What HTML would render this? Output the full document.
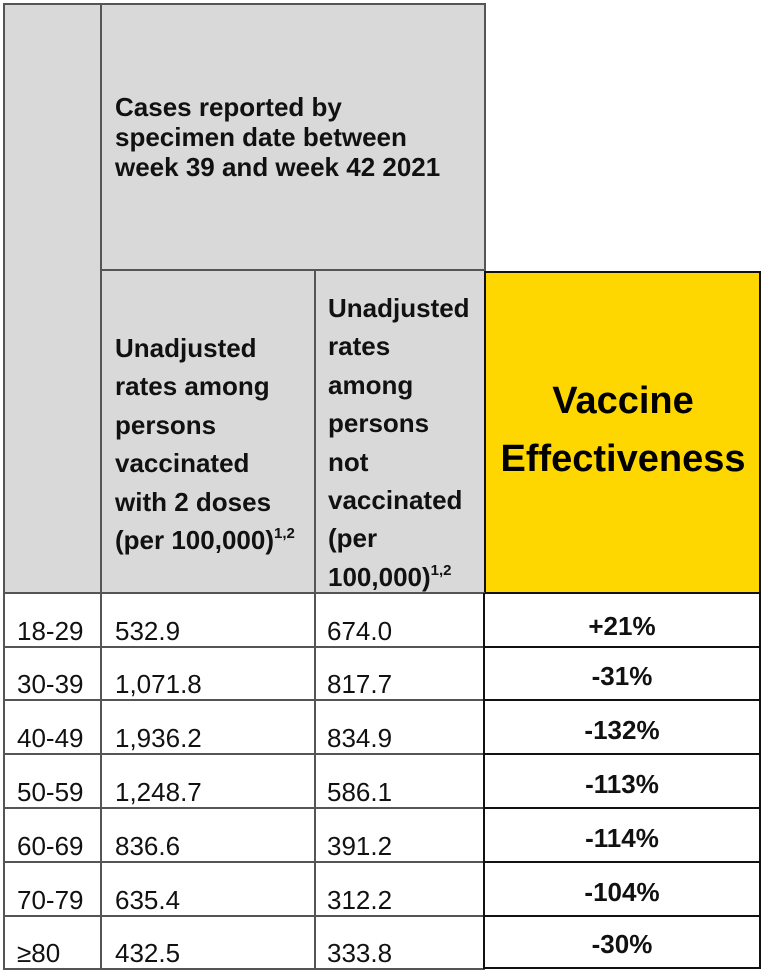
<!DOCTYPE html>
<html><head><meta charset="utf-8"><style>
*{margin:0;padding:0;box-sizing:border-box}
body{width:768px;height:979px;background:#fff;position:relative;overflow:hidden;font-family:"Liberation Sans",Arial,sans-serif;color:#111}
.a{position:absolute}
.hl{background:#555;position:absolute}
.t{position:absolute;font-size:26px;white-space:nowrap;line-height:30px}
.b{font-weight:bold}
sup{font-size:15px;vertical-align:0;position:relative;top:-11px}
.p{position:absolute;left:484px;width:276px;text-align:center;font-weight:bold;font-size:26px;line-height:28px}
</style></head><body>
<div class="a" style="left:3px;top:3px;width:482px;height:590px;background:#d9d9d9"></div>
<div class="a" style="left:484px;top:271px;width:277px;height:323px;background:#ffd700;border:2px solid #111"></div>
<div class="hl" style="left:3px;top:3px;width:483px;height:2px"></div>
<div class="hl" style="left:3px;top:3px;width:2px;height:967px"></div>
<div class="hl" style="left:100px;top:3px;width:2px;height:967px"></div>
<div class="hl" style="left:484px;top:3px;width:2px;height:268px"></div>
<div class="hl" style="left:101px;top:269px;width:384px;height:2px"></div>
<div class="hl" style="left:314px;top:270px;width:2px;height:700px"></div>
<div class="hl" style="left:3px;top:592px;width:482px;height:2px"></div>
<div class="hl" style="left:3px;top:646px;width:482px;height:2px"></div>
<div class="hl" style="left:3px;top:699px;width:482px;height:2px"></div>
<div class="hl" style="left:3px;top:753px;width:482px;height:2px"></div>
<div class="hl" style="left:3px;top:807px;width:482px;height:2px"></div>
<div class="hl" style="left:3px;top:861px;width:482px;height:2px"></div>
<div class="hl" style="left:3px;top:915px;width:482px;height:2px"></div>
<div class="hl" style="left:3px;top:968px;width:482px;height:2px"></div>
<div class="a" style="left:483px;top:593px;width:278px;height:376px;border:2px solid #111;border-top:none"></div>
<div class="a" style="left:483px;top:646px;width:278px;height:2px;background:#111"></div>
<div class="a" style="left:483px;top:699px;width:278px;height:2px;background:#111"></div>
<div class="a" style="left:483px;top:753px;width:278px;height:2px;background:#111"></div>
<div class="a" style="left:483px;top:807px;width:278px;height:2px;background:#111"></div>
<div class="a" style="left:483px;top:861px;width:278px;height:2px;background:#111"></div>
<div class="a" style="left:483px;top:915px;width:278px;height:2px;background:#111"></div>

<div class="t b" style="left:115px;top:92px">Cases reported by<br>specimen date between<br>week 39 and week 42 2021</div>
<div class="t b" style="left:115px;top:329px;line-height:38.4px">Unadjusted<br>rates among<br>persons<br>vaccinated<br>with 2 doses<br>(per 100,000)<sup>1,2</sup></div>
<div class="t b" style="left:328px;top:289px;line-height:38.4px">Unadjusted<br>rates<br>among<br>persons<br>not<br>vaccinated<br>(per<br>100,000)<sup>1,2</sup></div>
<div class="a b" style="left:484px;width:278px;top:372px;text-align:center;font-size:38px;line-height:58px;color:#000">Vaccine<br>Effectiveness</div>

<div class="t" style="left:17px;top:616px">18-29</div><div class="t" style="left:115px;top:616px">532.9</div><div class="t" style="left:327px;top:616px">674.0</div><div class="p" style="top:612px">+21%</div>
<div class="t" style="left:17px;top:669px">30-39</div><div class="t" style="left:115px;top:669px">1,071.8</div><div class="t" style="left:327px;top:669px">817.7</div><div class="p" style="top:662px">-31%</div>
<div class="t" style="left:17px;top:723px">40-49</div><div class="t" style="left:115px;top:723px">1,936.2</div><div class="t" style="left:327px;top:723px">834.9</div><div class="p" style="top:716px">-132%</div>
<div class="t" style="left:17px;top:777px">50-59</div><div class="t" style="left:115px;top:777px">1,248.7</div><div class="t" style="left:327px;top:777px">586.1</div><div class="p" style="top:770px">-113%</div>
<div class="t" style="left:17px;top:831px">60-69</div><div class="t" style="left:115px;top:831px">836.6</div><div class="t" style="left:327px;top:831px">391.2</div><div class="p" style="top:824px">-114%</div>
<div class="t" style="left:17px;top:885px">70-79</div><div class="t" style="left:115px;top:885px">635.4</div><div class="t" style="left:327px;top:885px">312.2</div><div class="p" style="top:878px">-104%</div>
<div class="t" style="left:17px;top:938px">≥80</div><div class="t" style="left:115px;top:938px">432.5</div><div class="t" style="left:327px;top:938px">333.8</div><div class="p" style="top:930px">-30%</div>
</body></html>
